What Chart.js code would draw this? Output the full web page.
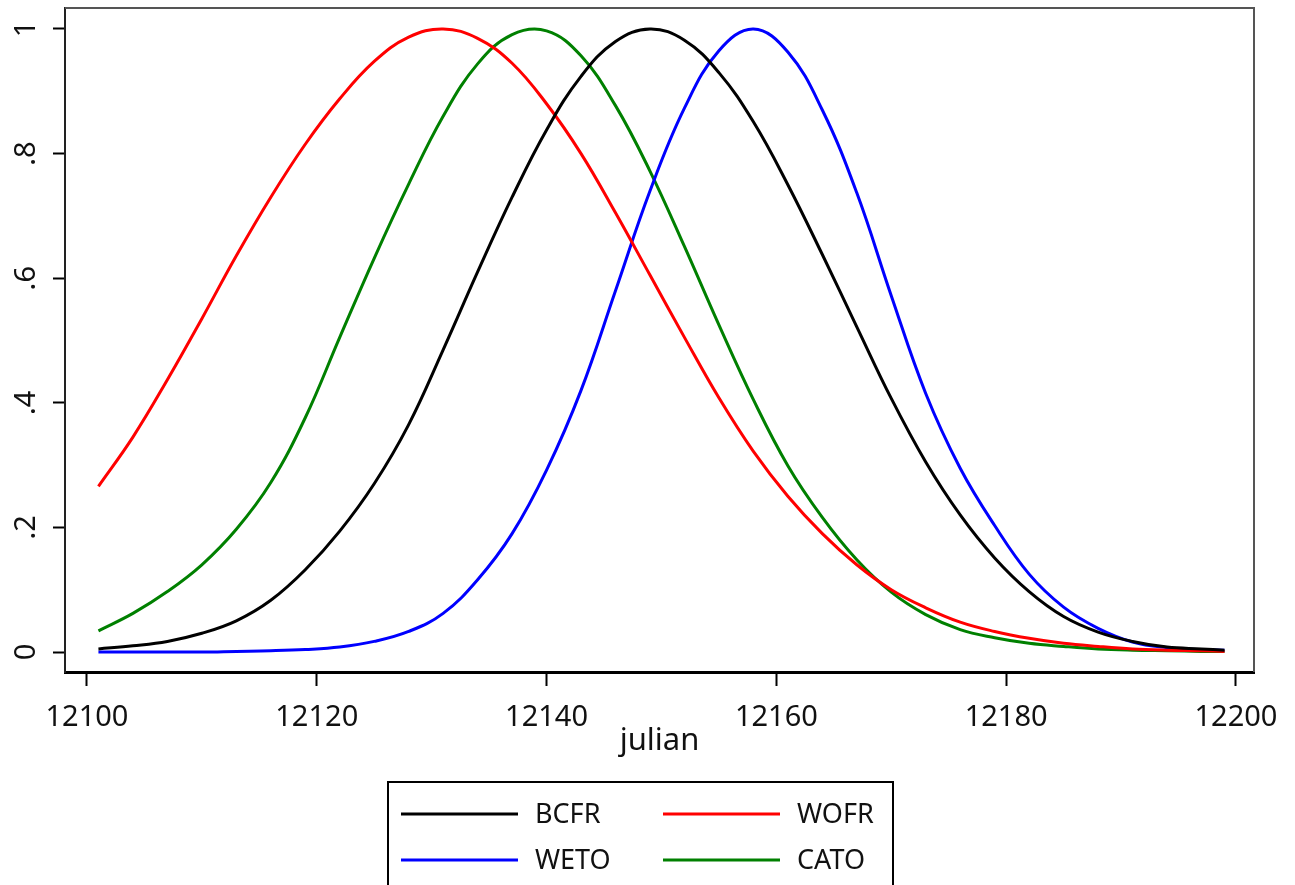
<!DOCTYPE html>
<html>
<head>
<meta charset="utf-8">
<script src="https://cdn.jsdelivr.net/npm/chart.js@4"></script>
<style>
  body { margin: 0; background: #fff; }
</style>
</head>
<body>
<canvas id="curves" width="1295" height="885"></canvas>
<script>
// julian day of each reading
var days = [12101, 12104, 12107, 12110, 12113, 12116, 12119, 12122, 12125, 12128,
            12131, 12134, 12137, 12140, 12143, 12146, 12149, 12152, 12155, 12158,
            12161, 12164, 12167, 12170, 12173, 12176, 12179, 12182, 12185, 12188,
            12191, 12194, 12197, 12199];

var bcfr = [0.005, 0.010, 0.017, 0.030, 0.050, 0.083, 0.132, 0.194, 0.270, 0.365,
            0.485, 0.610, 0.730, 0.838, 0.924, 0.980, 1.000, 0.982, 0.930, 0.851,
            0.750, 0.638, 0.522, 0.407, 0.305, 0.220, 0.151, 0.097, 0.057, 0.032,
            0.017, 0.008, 0.005, 0.003];

var wofr = [0.266, 0.345, 0.437, 0.535, 0.636, 0.730, 0.815, 0.888, 0.948, 0.987,
            1.000, 0.985, 0.945, 0.880, 0.800, 0.705, 0.605, 0.505, 0.408, 0.322,
            0.250, 0.190, 0.140, 0.100, 0.071, 0.048, 0.033, 0.022, 0.014, 0.009,
            0.005, 0.003, 0.002, 0.001];

var weto = [0.000, 0.000, 0.000, 0.000, 0.001, 0.002, 0.004, 0.008, 0.017, 0.033,
            0.062, 0.116, 0.190, 0.292, 0.420, 0.580, 0.740, 0.873, 0.965, 1.000,
            0.963, 0.870, 0.737, 0.572, 0.415, 0.295, 0.203, 0.125, 0.072, 0.038,
            0.016, 0.007, 0.004, 0.003];

var cato = [0.034, 0.062, 0.097, 0.140, 0.197, 0.272, 0.376, 0.505, 0.632, 0.751,
            0.860, 0.944, 0.991, 0.997, 0.957, 0.877, 0.772, 0.651, 0.525, 0.405,
            0.299, 0.216, 0.148, 0.096, 0.060, 0.036, 0.023, 0.014, 0.009, 0.005,
            0.003, 0.002, 0.001, 0.001];

var xTicks = [12100, 12120, 12140, 12160, 12180, 12200];
var yTicks = [0, 0.2, 0.4, 0.6, 0.8, 1];

var fontName = '"Noto Sans", sans-serif';

function points(vals) {
  return days.map(function(d, i) { return {x: d, y: vals[i]}; });
}

function series(label, vals, color) {
  return {
    label: label,
    data: points(vals),
    borderColor: color,
    backgroundColor: color,
    borderWidth: 3,
    pointRadius: 0,
    fill: false,
    tension: 0.4
  };
}

// top/right frame of the plot region and the boxed legend under the axis
var framePlugin = {
  id: 'frame',
  afterDraw: function(chart) {
    var ctx = chart.ctx;
    var a = chart.chartArea;
    ctx.save();
    ctx.strokeStyle = '#555';
    ctx.lineWidth = 2;
    ctx.beginPath();
    ctx.moveTo(a.left, a.top);
    ctx.lineTo(a.right, a.top);
    ctx.lineTo(a.right, a.bottom);
    ctx.stroke();

    ctx.strokeStyle = '#000';
    ctx.lineWidth = 2;
    ctx.strokeRect(388, 782, 505, 140);

    ctx.font = '27px ' + fontName;
    ctx.textBaseline = 'middle';
    ctx.textAlign = 'left';
    chart.data.datasets.forEach(function(ds, i) {
      var col = i % 2, row = Math.floor(i / 2);
      var x0 = 401 + col * 262;
      var y = 814 + row * 46;
      ctx.strokeStyle = ds.borderColor;
      ctx.lineWidth = 3;
      ctx.beginPath();
      ctx.moveTo(x0, y);
      ctx.lineTo(x0 + 117, y);
      ctx.stroke();
      ctx.fillStyle = '#111';
      ctx.fillText(ds.label, x0 + 134, y + 1);
    });
    ctx.restore();
  }
};

var ctx = document.getElementById('curves').getContext('2d');
var myChart = new Chart(ctx, {
  type: 'line',
  data: {
    datasets: [
      series('BCFR', bcfr, '#000000'),
      series('WOFR', wofr, '#ff0000'),
      series('WETO', weto, '#0000ff'),
      series('CATO', cato, '#008000')
    ]
  },
  options: {
    responsive: false,
    animation: false,
    devicePixelRatio: 1,
    layout: { padding: { left: 0, top: 8, right: 41, bottom: 125 } },
    plugins: {
      legend: { display: false },
      tooltip: { enabled: false }
    },
    scales: {
      x: {
        type: 'linear',
        min: 12098.09,
        max: 12201.57,
        afterBuildTicks: function(scale) {
          scale.ticks = xTicks.map(function(v) { return {value: v}; });
        },
        afterFit: function(scale) { scale.height = 88; },
        grid: { drawOnChartArea: false, tickLength: 14, tickWidth: 2, tickColor: '#000' },
        border: { display: true, color: '#000', width: 3 },
        ticks: {
          autoSkip: false,
          maxRotation: 0,
          padding: 14,
          color: '#111',
          font: { family: fontName, size: 29 },
          callback: function(v) { return String(v); }
        },
        title: {
          display: true,
          text: 'julian',
          color: '#111',
          padding: 0,
          font: { family: fontName, size: 31 }
        }
      },
      y: {
        min: -0.0321,
        max: 1.0337,
        afterBuildTicks: function(scale) {
          scale.ticks = yTicks.map(function(v) { return {value: v}; });
        },
        afterFit: function(scale) {
          scale.width = 65;
          scale.paddingTop = 0;
          scale.paddingBottom = 0;
        },
        grid: { drawOnChartArea: false, tickLength: 12, tickWidth: 2, tickColor: '#000' },
        border: { display: true, color: '#222', width: 2 },
        ticks: {
          minRotation: 90,
          maxRotation: 90,
          crossAlign: 'center',
          padding: 14,
          color: '#111',
          font: { family: fontName, size: 29 },
          callback: function(v) { return v === 0 ? '0' : String(v).replace(/^0/, ''); }
        }
      }
    }
  },
  plugins: [framePlugin]
});
</script>
</body>
</html>
